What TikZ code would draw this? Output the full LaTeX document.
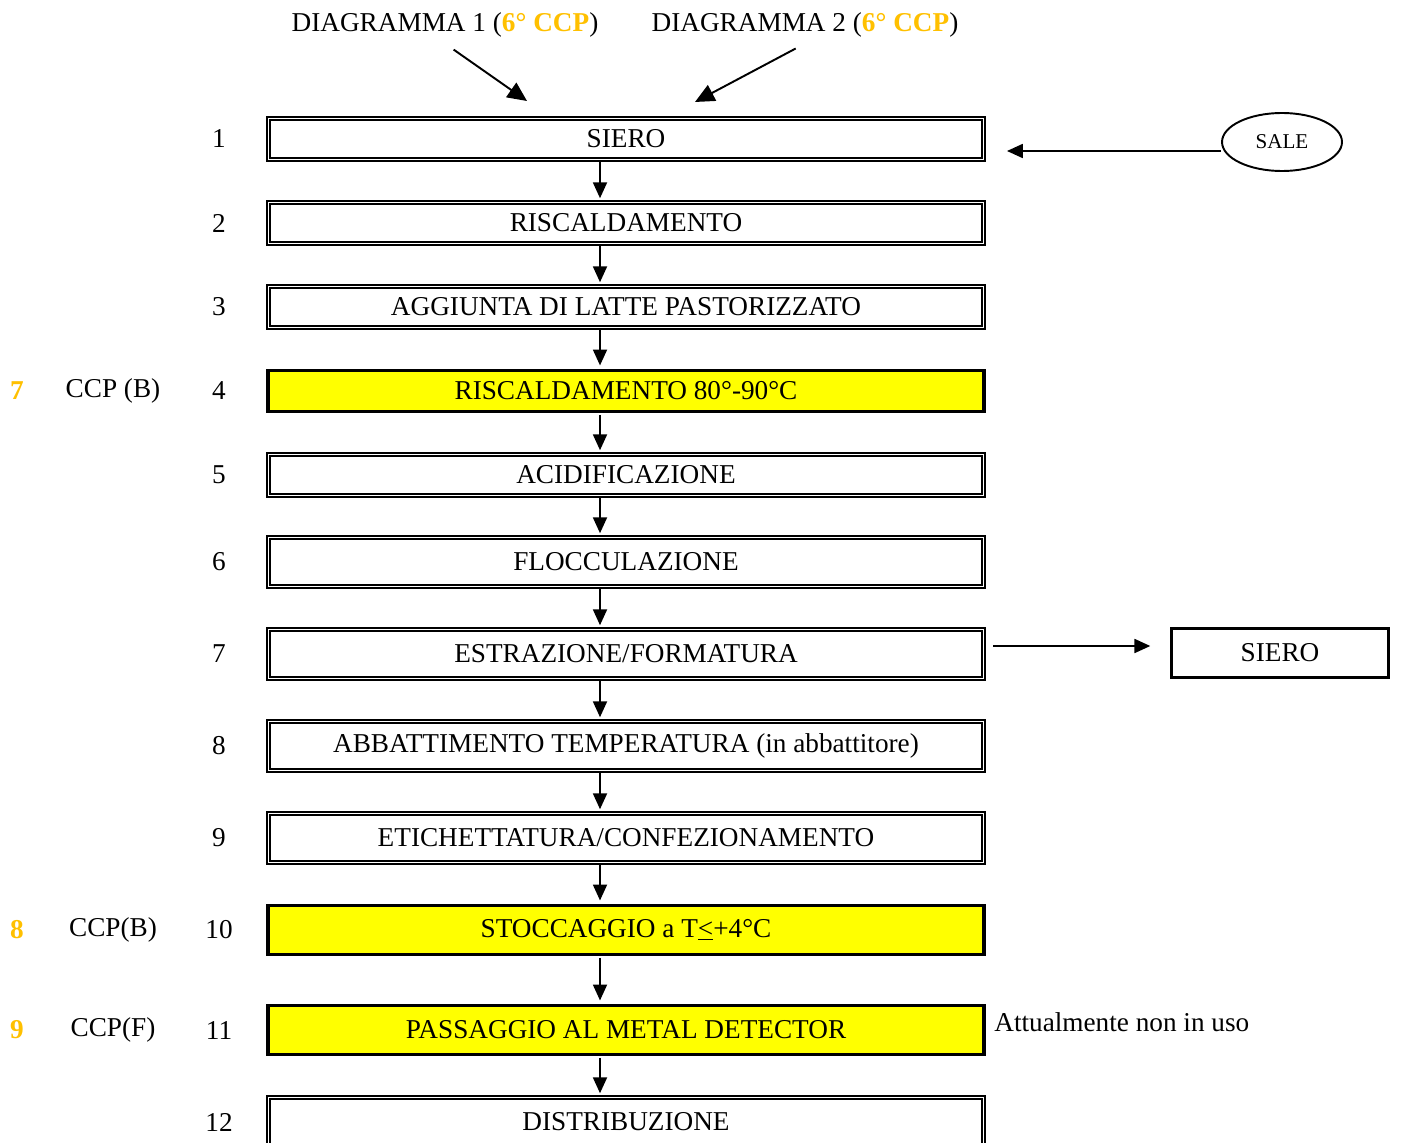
\documentclass[tikz,border=0pt]{standalone}
\usepackage{fontspec}
\setmainfont{Liberation Serif}
\usetikzlibrary{arrows.meta,shapes.geometric}

\definecolor{ccpgold}{RGB}{255,192,0}
\definecolor{ccpyellow}{RGB}{255,255,0}

\tikzset{
  stepbox/.style={draw,double,line width=0.9pt,double distance=1.0pt,
    minimum width=14.3cm,minimum height=#1,inner sep=0pt},
  ccpbox/.style={draw,line width=1.8pt,fill=ccpyellow,
    minimum width=14.32cm,minimum height=#1,inner sep=0pt},
  flow/.style={-{Triangle[length=9pt,width=8pt]},line width=0.9pt},
  bigflow/.style={-{Triangle[length=11pt,width=10pt]},line width=1.1pt},
  ccpnum/.style={text=ccpgold,font=\fontsize{15.5}{18}\selectfont\bfseries},
}

\begin{document}
\begin{tikzpicture}[x=0.02cm,y=-0.02cm,every node/.style={font=\fontsize{15.5}{18}\selectfont}]
\useasboundingbox (0,0) rectangle (1402,1142);

% Source diagrams
\node (d1) at (445,25) {DIAGRAMMA 1 (\textcolor{ccpgold}{\textbf{6° CCP}})};
\node (d2) at (805,25) {DIAGRAMMA 2 (\textcolor{ccpgold}{\textbf{6° CCP}})};
\coordinate (t1) at (527,101);
\coordinate (t2) at (695,102);
\draw[bigflow,shorten <=6pt] (d1.south) -- (t1);
\draw[bigflow,shorten <=6pt] (d2.south) -- (t2);

% Process steps
\node[stepbox=0.82cm] (s1) at (626,139) {SIERO};
\node[stepbox=0.82cm] (s2) at (626,223) {RISCALDAMENTO};
\node[stepbox=0.82cm] (s3) at (626,307) {AGGIUNTA DI LATTE PASTORIZZATO};
\node[ccpbox=0.82cm] (s4) at (626,391) {RISCALDAMENTO 80°-90°C};
\node[stepbox=0.82cm] (s5) at (626,475) {ACIDIFICAZIONE};
\node[stepbox=0.98cm] (s6) at (626,562) {FLOCCULAZIONE};
\node[stepbox=0.98cm] (s7) at (626,654) {ESTRAZIONE/FORMATURA};
\node[stepbox=0.98cm] (s8) at (626,746) {ABBATTIMENTO TEMPERATURA (in abbattitore)};
\node[stepbox=0.98cm] (s9) at (626,838) {ETICHETTATURA/CONFEZIONAMENTO};
\node[ccpbox=0.98cm] (s10) at (626,930) {STOCCAGGIO a T\underline{<}+4°C};
\node[ccpbox=0.98cm] (s11) at (626,1030) {PASSAGGIO AL METAL DETECTOR};
\node[stepbox=0.98cm] (s12) at (626,1122) {DISTRIBUZIONE};

% Flow between steps
\coordinate (ax) at (600,0);
\foreach \a/\b in {s1/s2,s2/s3,s3/s4,s4/s5,s5/s6,s6/s7,s7/s8,s8/s9,s9/s10,s10/s11,s11/s12}
  \draw[flow,shorten <=1pt,shorten >=2pt] (\a.south -| ax) -- (\b.north -| ax);

% Step numbers
\foreach \n/\y in {1/139,2/223,3/307,4/391,5/475,6/562,7/654,8/746,9/838,10/930,11/1030,12/1122}
  \node (n\n) at (219,\y) {\n};

% CCP labels
\node[ccpnum] (c7) at (17,391) {7};
\node (l7) at (113,391) {CCP (B)};
\node[ccpnum] (c8) at (17,930) {8};
\node (l8) at (113,930) {CCP(B)};
\node[ccpnum] (c9) at (17,1030) {9};
\node (l9) at (113,1030) {CCP(F)};

% Salt input
\node[draw,ellipse,line width=1.1pt,minimum width=2.4cm,minimum height=1.16cm,
  font=\fontsize{12}{14}\selectfont] (sale) at (1282,142) {SALE};
\coordinate (in1) at (1007,151);
\draw[flow] (sale.west |- in1) -- (in1);

% Whey output
\node[draw,line width=1.5pt,minimum width=4.34cm,minimum height=0.98cm] (out) at (1280,653) {SIERO};
\coordinate (o7) at (993,646);
\draw[flow,shorten >=20pt*0.567] (o7) -- (out.west |- o7);

% Note
\node[anchor=west,inner sep=0pt] (note) at (994,1022) {Attualmente non in uso};
\end{tikzpicture}
\end{document}
